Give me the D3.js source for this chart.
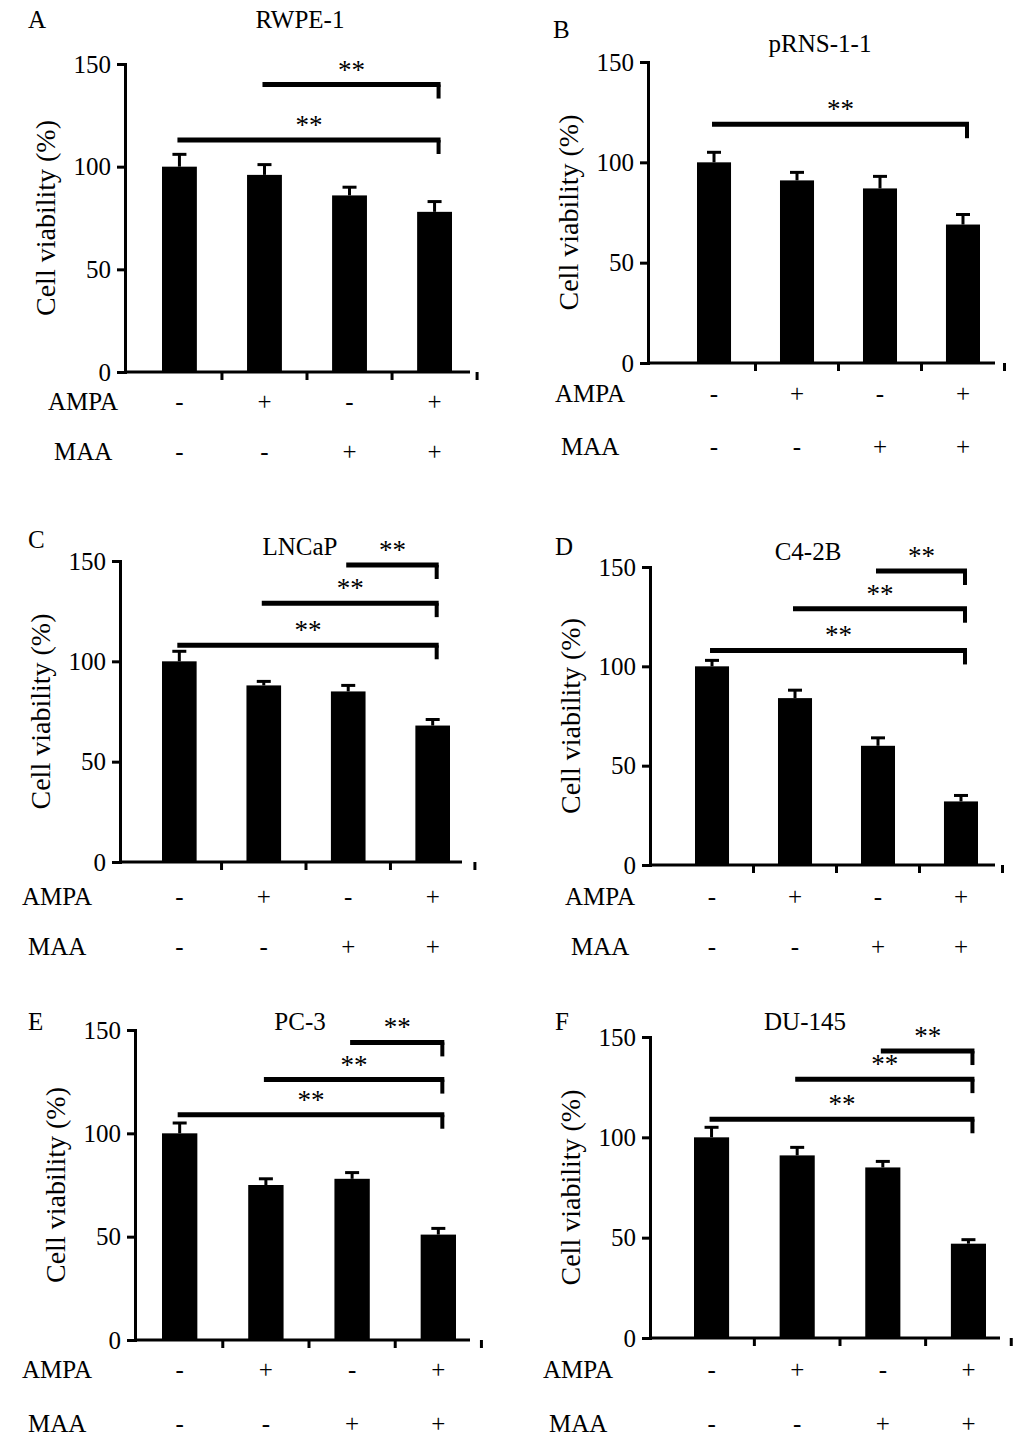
<!DOCTYPE html>
<html><head><meta charset="utf-8">
<script src="https://cdn.jsdelivr.net/npm/d3@7"></script>
<style>body{margin:0;background:#fff}text{font-family:"Liberation Serif","Times New Roman",serif;fill:#000}</style>
</head><body>
<svg id="chart" width="1024" height="1450"></svg>
<script>
// data
const groups = ['g1', 'g2', 'g3', 'g4'];
const ampaSigns = ['-', '+', '-', '+'];
const maaSigns = ['-', '-', '+', '+'];
const yTicks = [0, 50, 100, 150];

const panelNames = ['RWPE-1', 'pRNS-1-1', 'LNCaP', 'C4-2B', 'PC-3', 'DU-145'];
const panelLetters = ['A', 'B', 'C', 'D', 'E', 'F'];
const means = [
  [100, 96, 86, 78],
  [100, 91, 87, 69],
  [100, 88, 85, 68],
  [100, 84, 60, 32],
  [100, 75, 78, 51],
  [100, 91, 85, 47]
];
const errs = [
  [6, 5, 4, 5],
  [5, 4, 6, 5],
  [5, 2, 3, 3],
  [3, 4, 4, 3],
  [5, 3, 3, 3],
  [5, 4, 3, 2]
];
// significance brackets: [from group index, height in chart units]
const sigBars = [
  [[1, 140], [0, 113]],
  [[0, 119]],
  [[2, 148], [1, 129], [0, 108]],
  [[2, 148], [1, 129], [0, 108]],
  [[2, 144], [1, 126], [0, 109]],
  [[2, 143], [1, 129], [0, 109]]
];

// layout of each panel
const layout = [
  {x0: 125, x1: 470, bl: 162, br: 452, yb: 372, yt: 64, lx: 28, ly: 28, tx: 300, ty: 28, ampaY: 410, maaY: 460, labX: 48},
  {x0: 648, x1: 995, bl: 697, br: 980, yb: 363, yt: 62, lx: 553, ly: 38, tx: 820, ty: 52, ampaY: 402, maaY: 455, labX: 555},
  {x0: 120, x1: 462, bl: 162, br: 450, yb: 862, yt: 561, lx: 28, ly: 548, tx: 300, ty: 555, ampaY: 905, maaY: 955, labX: 22},
  {x0: 650, x1: 995, bl: 695, br: 978, yb: 865, yt: 567, lx: 555, ly: 555, tx: 808, ty: 560, ampaY: 905, maaY: 955, labX: 565},
  {x0: 135, x1: 470, bl: 162, br: 456, yb: 1340, yt: 1030, lx: 28, ly: 1030, tx: 300, ty: 1030, ampaY: 1378, maaY: 1432, labX: 22},
  {x0: 650, x1: 1000, bl: 694, br: 986, yb: 1338, yt: 1037, lx: 555, ly: 1030, tx: 805, ty: 1030, ampaY: 1378, maaY: 1432, labX: 543}
];

const svg = d3.select('#chart');

panelNames.forEach((name, p) => {
  const L = layout[p];
  const g = svg.append('g');
  const x = d3.scaleBand().domain(groups).range([L.bl, L.br]).paddingInner(0.59).paddingOuter(0);
  const y = d3.scaleLinear().domain([0, 150]).range([L.yb, L.yt]);

  g.append('text').attr('x', L.lx).attr('y', L.ly).attr('font-size', 25).text(panelLetters[p]);
  g.append('text').attr('x', L.tx).attr('y', L.ty).attr('text-anchor', 'middle').attr('font-size', 25).text(name);

  const yAxis = g.append('g').attr('transform', `translate(${L.x0},0)`)
    .call(d3.axisLeft(y).tickValues(yTicks).tickSize(8).tickPadding(6));
  yAxis.selectAll('text').attr('font-size', 25);
  yAxis.selectAll('line,path').attr('stroke', '#000').attr('stroke-width', 3);

  g.append('line').attr('x1', L.x0).attr('x2', L.x1).attr('y1', L.yb).attr('y2', L.yb)
    .attr('stroke', '#000').attr('stroke-width', 3);
  const step = x.step();
  groups.forEach((d) => {
    const tx = x(d) + x.bandwidth() / 2 + step / 2;
    g.append('line').attr('x1', tx).attr('x2', tx).attr('y1', L.yb).attr('y2', L.yb + 8)
      .attr('stroke', '#000').attr('stroke-width', 3);
  });

  g.append('text').attr('transform', `translate(${L.x0 - 70},${(L.yb + L.yt) / 2}) rotate(-90)`)
    .attr('text-anchor', 'middle').attr('font-size', 28).text('Cell viability (%)');

  const cx = d => x(d) + x.bandwidth() / 2;
  g.selectAll('.err').data(groups).enter().append('g').each(function(d, i) {
    const top = y(means[p][i] + errs[p][i]);
    d3.select(this).append('line').attr('x1', cx(d)).attr('x2', cx(d)).attr('y1', y(means[p][i])).attr('y2', top)
      .attr('stroke', '#000').attr('stroke-width', 3);
    d3.select(this).append('line').attr('x1', cx(d) - 7).attr('x2', cx(d) + 7).attr('y1', top).attr('y2', top)
      .attr('stroke', '#000').attr('stroke-width', 3);
  });
  g.selectAll('rect').data(groups).enter().append('rect')
    .attr('x', d => x(d)).attr('width', x.bandwidth())
    .attr('y', (d, i) => y(means[p][i])).attr('height', (d, i) => L.yb - y(means[p][i]))
    .attr('fill', '#000');

  sigBars[p].forEach(([from, h]) => {
    const xa = cx(groups[from]) - 2, xb = cx(groups[3]) + 6;
    g.append('line').attr('x1', xa).attr('x2', xb).attr('y1', y(h)).attr('y2', y(h))
      .attr('stroke', '#000').attr('stroke-width', 5);
    g.append('line').attr('x1', xb - 2).attr('x2', xb - 2).attr('y1', y(h)).attr('y2', y(h) + 14)
      .attr('stroke', '#000').attr('stroke-width', 4);
    g.append('text').attr('x', (xa + xb) / 2).attr('y', y(h) - 6).attr('text-anchor', 'middle')
      .attr('font-size', 27).text('**');
  });

  [['AMPA', ampaSigns, L.ampaY], ['MAA', maaSigns, L.maaY]].forEach(([lab, signs, yy]) => {
    g.append('text').attr('x', L.labX + (lab === 'MAA' ? 6 : 0)).attr('y', yy).attr('font-size', 25).text(lab);
    groups.forEach((d, i) => {
      g.append('text').attr('x', cx(d)).attr('y', yy).attr('text-anchor', 'middle')
        .attr('font-size', 25).text(signs[i]);
    });
  });
});
</script>
</body></html>
